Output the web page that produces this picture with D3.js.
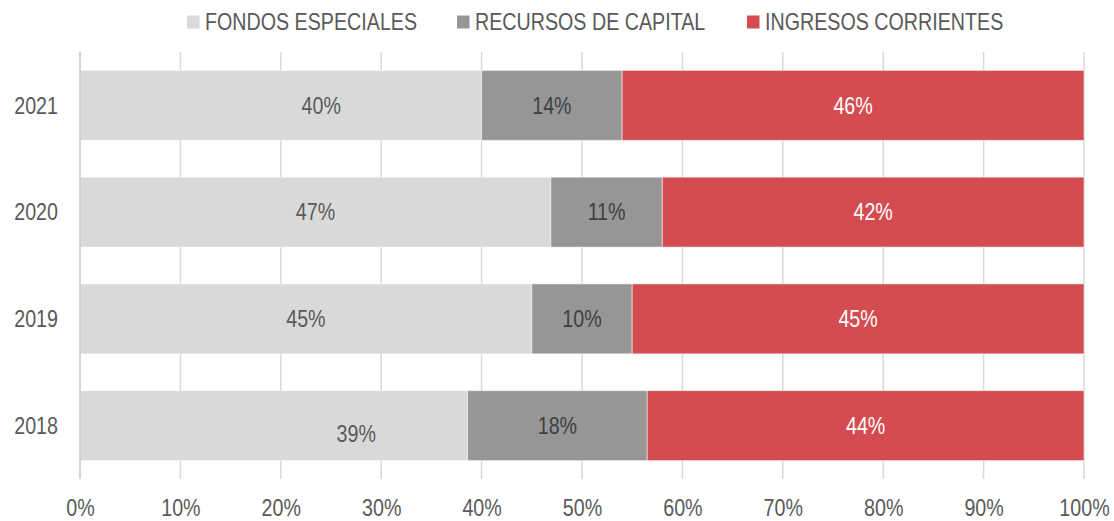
<!DOCTYPE html>
<html>
<head>
<meta charset="utf-8">
<script src="https://cdn.jsdelivr.net/npm/d3@7"></script>
<style>
  html, body { margin: 0; padding: 0; background: #ffffff; }
  svg { display: block; }
  text { font-family: "Liberation Sans", Arial, sans-serif; }
</style>
</head>
<body>
<svg id="chart" width="1114" height="521"></svg>
<script>
// ---- Data ----
const years = ["2021", "2020", "2019", "2018"];
const seriesNames = ["FONDOS ESPECIALES", "RECURSOS DE CAPITAL", "INGRESOS CORRIENTES"];
const fondosEspeciales = [40.0, 46.9, 45.0, 38.6];
const recursosCapital = [14.0, 11.1, 10.0, 17.9];
const ingresosCorrientes = [46.0, 42.0, 45.0, 43.5];
const fondosLabels = ["40%", "47%", "45%", "39%"];
const recursosLabels = ["14%", "11%", "10%", "18%"];
const ingresosLabels = ["46%", "42%", "45%", "44%"];
const xTicks = [0, 10, 20, 30, 40, 50, 60, 70, 80, 90, 100];

// ---- Style ----
const colors = ["#d9d9d9", "#969696", "#d44c4f"];
const labelColors = ["#595959", "#404040", "#ffffff"];
const FS = 24;          // font size
const NARROW = 0.82;    // horizontal condensing (narrow face look)

const svg = d3.select("#chart");
const W = 1114, H = 521;
const plotTop = 52, plotBot = 479;

const x = d3.scaleLinear().domain([0, 100]).range([80, 1084]);
const y = d3.scaleBand().domain(years).range([plotTop, plotBot]).paddingInner(0.345).paddingOuter(0.1725);

const rows = years.map((yr, i) => ({ year: yr, v: [fondosEspeciales[i], recursosCapital[i], ingresosCorrientes[i]], l: [fondosLabels[i], recursosLabels[i], ingresosLabels[i]] }));

// gridlines
svg.append("g").selectAll("line").data(xTicks.slice(1)).join("line")
  .attr("x1", d => x(d)).attr("x2", d => x(d))
  .attr("y1", plotTop).attr("y2", plotBot)
  .attr("stroke", "#d9d9d9").attr("stroke-width", 1.5);

// bars
const segs = [];
rows.forEach(r => {
  let acc = 0;
  r.v.forEach((v, k) => {
    segs.push({ year: r.year, x0: acc, x1: acc + v, k, label: r.l[k] });
    acc += v;
  });
});

svg.append("g").selectAll("rect").data(segs).join("rect")
  .attr("x", d => x(d.x0)).attr("width", d => x(d.x1) - x(d.x0))
  .attr("y", d => y(d.year)).attr("height", y.bandwidth())
  .attr("fill", d => colors[d.k])
  .attr("stroke", "#ffffff").attr("stroke-opacity", 0.5).attr("stroke-width", 1);

// vertical axis line at 0
svg.append("line").attr("x1", x(0)).attr("x2", x(0)).attr("y1", plotTop).attr("y2", plotBot)
  .attr("stroke", "#c8c8c8").attr("stroke-width", 1.5);

// data labels (two labels were manually moved in the original)
const labelShift = (d) => {
  if (d.k === 0 && d.year === "2021") return [40.5, 0];
  if (d.k === 0 && d.year === "2018") return [82.5, 8];
  return [0, 0];
};
svg.append("g").selectAll("text").data(segs).join("text")
  .attr("transform", d => {
    const s = labelShift(d);
    return `translate(${(x(d.x0) + x(d.x1)) / 2 + s[0]},${y(d.year) + y.bandwidth() / 2 + s[1]}) scale(${NARROW},1)`;
  })
  .attr("text-anchor", "middle").attr("dominant-baseline", "central")
  .attr("font-size", FS).attr("fill", d => labelColors[d.k])
  .text(d => d.label);

// y axis labels
svg.append("g").selectAll("text").data(years).join("text")
  .attr("transform", d => `translate(58,${y(d) + y.bandwidth() / 2}) scale(${NARROW},1)`)
  .attr("text-anchor", "end").attr("dominant-baseline", "central")
  .attr("font-size", FS).attr("fill", "#595959")
  .text(d => d);

// x axis
const xAxis = d3.axisBottom(x).tickValues(xTicks).tickFormat(d => d + "%").tickSize(0).tickPadding(20);
const gx = svg.append("g").attr("transform", `translate(0,${plotBot})`).call(xAxis);
gx.select(".domain").remove();
gx.selectAll("text").attr("font-size", FS).attr("fill", "#595959")
  .attr("font-family", '"Liberation Sans", Arial, sans-serif')
  .attr("transform", `scale(${NARROW},1)`)
  .attr("dy", "0.72em");

// legend
const legendX = [187, 457, 747];
const lg = svg.append("g").selectAll("g").data(seriesNames).join("g")
  .attr("transform", (d, i) => `translate(${legendX[i]},22)`);
lg.append("rect").attr("x", 0).attr("y", -6.5).attr("width", 12.5).attr("height", 13)
  .attr("fill", (d, i) => colors[i]);
lg.append("text").attr("transform", `translate(18,0) scale(${NARROW},1)`)
  .attr("dominant-baseline", "central")
  .attr("font-size", FS).attr("fill", "#595959").text(d => d);
</script>
</body>
</html>
